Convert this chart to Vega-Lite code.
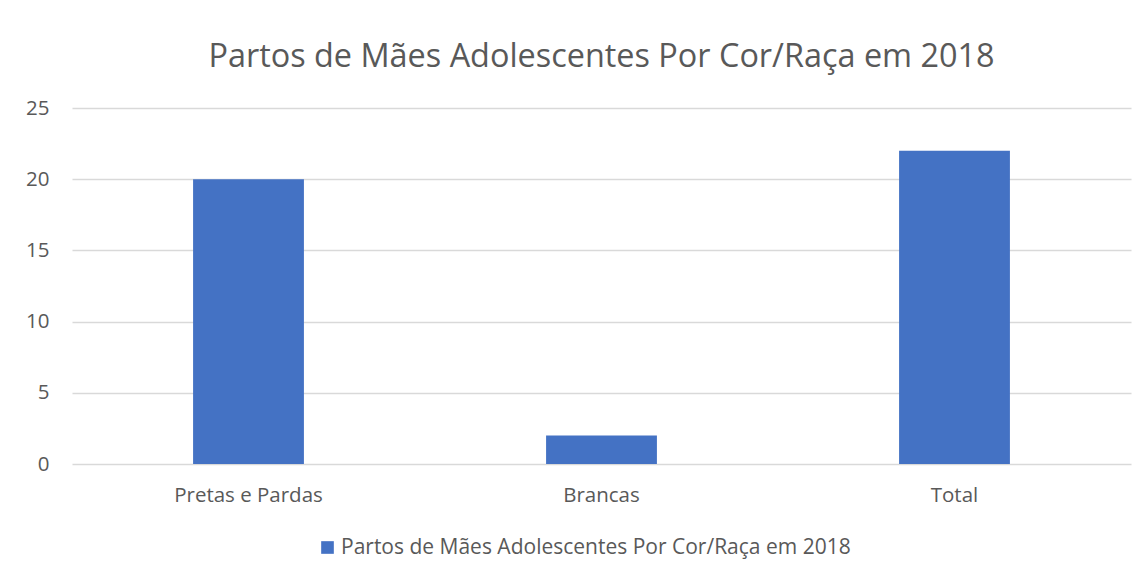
{
  "$schema": "https://vega.github.io/schema/vega-lite/v6.json",
  "width": 1059,
  "height": 356,
  "autosize": {"type": "none"},
  "padding": {"left": 72, "top": 108, "right": 16, "bottom": 118},
  "background": "white",
  "data": {
    "values": [
      {"categoria": "Pretas e Pardas", "valor": 20, "serie": "Partos de Mães Adolescentes Por Cor/Raça em 2018"},
      {"categoria": "Brancas", "valor": 2, "serie": "Partos de Mães Adolescentes Por Cor/Raça em 2018"},
      {"categoria": "Total", "valor": 22, "serie": "Partos de Mães Adolescentes Por Cor/Raça em 2018"}
    ]
  },
  "title": {
    "text": "Partos de Mães Adolescentes Por Cor/Raça em 2018",
    "font": "Open Sans",
    "fontSize": 32.4,
    "fontWeight": "normal",
    "color": "#595959",
    "anchor": "middle",
    "offset": 25
  },
  "mark": {"type": "bar", "color": "#4472c4"},
  "encoding": {
    "x": {
      "field": "categoria",
      "type": "nominal",
      "sort": null,
      "scale": {"paddingInner": 0.686, "paddingOuter": 0.343},
      "axis": {
        "title": null,
        "labelAngle": 0,
        "labelFont": "Open Sans",
        "labelFontSize": 20.5,
        "labelColor": "#595959",
        "labelPadding": 21,
        "ticks": false,
        "domain": false
      }
    },
    "y": {
      "field": "valor",
      "type": "quantitative",
      "scale": {"domain": [0, 25]},
      "axis": {
        "title": null,
        "values": [0, 5, 10, 15, 20, 25],
        "labelFont": "Open Sans",
        "labelFontSize": 20.5,
        "labelColor": "#595959",
        "labelPadding": 23,
        "ticks": false,
        "domain": false,
        "gridColor": "#d9d9d9",
        "gridWidth": 1.5
      }
    },
    "color": {
      "field": "serie",
      "type": "nominal",
      "scale": {"range": ["#4472c4"]},
      "legend": {
        "title": null,
        "orient": "none",
        "legendX": 245,
        "legendY": 429,
        "symbolType": "square",
        "symbolSize": 160,
        "symbolStrokeWidth": 0,
        "labelFont": "Open Sans",
        "labelFontSize": 21,
        "labelColor": "#595959",
        "labelOffset": 3,
        "labelLimit": 1000
      }
    }
  },
  "config": {
    "view": {"stroke": null}
  }
}
